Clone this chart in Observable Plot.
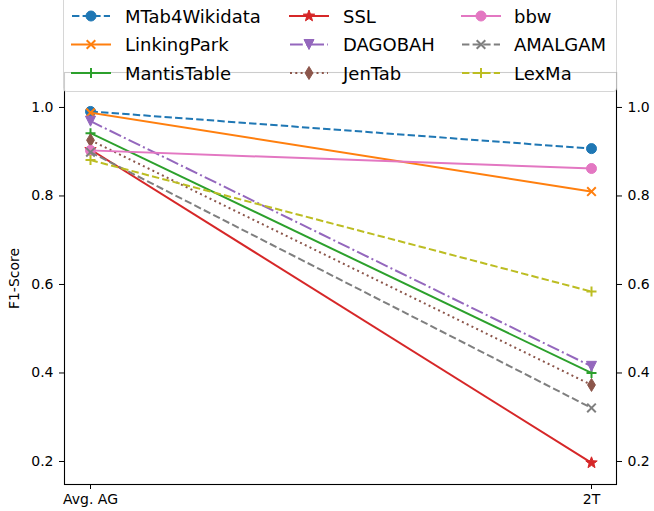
<!DOCTYPE html>
<html>
<head>
<meta charset="utf-8">
<script src="https://cdn.jsdelivr.net/npm/d3@7"></script>
<script src="https://cdn.jsdelivr.net/npm/@observablehq/plot@0.6"></script>
<style>
  html, body { margin: 0; padding: 0; background: white; }
  #wrap { position: relative; width: 654px; height: 511px; overflow: hidden; }
</style>
</head>
<body>
<div id="wrap"></div>
<script>
// ---- data ----
const categories = ["Avg. AG", "2T"];
const methods = ["MTab4Wikidata", "LinkingPark", "MantisTable", "SSL", "DAGOBAH", "JenTab", "bbw", "AMALGAM", "LexMa"];
const avgAG = [0.991, 0.988, 0.942, 0.905, 0.969, 0.926, 0.903, 0.899, 0.881];
const twoT  = [0.907, 0.810, 0.400, 0.197, 0.415, 0.373, 0.862, 0.321, 0.584];
const yTicks = [0.2, 0.4, 0.6, 0.8, 1.0];

// ---- styles ----
const colors = ["#1f77b4", "#ff7f0e", "#2ca02c", "#d62728", "#9467bd", "#8c564b", "#e377c2", "#7f7f7f", "#bcbd22"];
const dashes = ["7.4,3.2", null, null, null, "12.8,3.2,2,3.2", "2,3.3", null, "7.4,3.2", "7.4,3.2"];
const markers = ["circle", "x", "plus", "star", "tri", "thin", "circle", "x", "plus"];

const rad = s => Math.sqrt(s / Math.PI);
const symbols = {
  circle: {draw(c, s) { const r = rad(s); c.moveTo(r, 0); c.arc(0, 0, r, 0, 2 * Math.PI); c.closePath(); }},
  x: {draw(c, s) { const r = rad(s); c.moveTo(-r, -r); c.lineTo(r, r); c.moveTo(-r, r); c.lineTo(r, -r); }},
  plus: {draw(c, s) { const r = rad(s); c.moveTo(-r, 0); c.lineTo(r, 0); c.moveTo(0, -r); c.lineTo(0, r); }},
  star: {draw(c, s) {
    const R = rad(s), ri = R * 0.42;
    for (let k = 0; k < 10; k++) {
      const a = -Math.PI / 2 + k * Math.PI / 5, rr = k % 2 ? ri : R;
      const px = rr * Math.cos(a), py = rr * Math.sin(a);
      k ? c.lineTo(px, py) : c.moveTo(px, py);
    }
    c.closePath();
  }},
  tri: {draw(c, s) { const r = rad(s); c.moveTo(0, r); c.lineTo(-r, -r); c.lineTo(r, -r); c.closePath(); }},
  thin: {draw(c, s) { const r = rad(s); c.moveTo(0, -r); c.lineTo(0.6 * r, 0); c.lineTo(0, r); c.lineTo(-0.6 * r, 0); c.closePath(); }}
};
const markerR = {circle: 5, x: 4.3, plus: 5, star: 6, tri: 5, thin: 6.5};
const stroked = m => m === "x" || m === "plus";

const rows = [];
methods.forEach((m, i) => {
  rows.push({method: m, cat: categories[0], value: avgAG[i]});
  rows.push({method: m, cat: categories[1], value: twoT[i]});
});

const seriesMarks = [];
methods.forEach((m, i) => {
  const d = rows.filter(r => r.method === m);
  seriesMarks.push(Plot.line(d, {
    x: "cat", y: "value", stroke: colors[i], strokeWidth: 2,
    strokeDasharray: dashes[i] || undefined, strokeLinecap: dashes[i] ? "butt" : "square", strokeLinejoin: "round"
  }));
  const mk = markers[i];
  seriesMarks.push(Plot.dot(d, {
    x: "cat", y: "value", symbol: symbols[mk], r: markerR[mk],
    fill: stroked(mk) ? "none" : colors[i], stroke: colors[i], strokeWidth: stroked(mk) ? 2 : 1
  }));
});

const chart = Plot.plot({
  width: 654, height: 511,
  marginLeft: 64, marginRight: 38, marginTop: 72, marginBottom: 27,
  style: {fontFamily: "DejaVu Sans", fontSize: "14px", color: "black", background: "white"},
  x: {type: "point", domain: categories, padding: 0.05, axis: null},
  y: {domain: [0.148, 1.079], axis: null},
  marks: [
    Plot.axisY({anchor: "left", ticks: yTicks, tickFormat: ".1f", tickSize: 5, tickPadding: 6, label: null, fontSize: 14, stroke: "black", color: "black"}),
    Plot.axisY({anchor: "right", ticks: yTicks, tickFormat: ".1f", tickSize: 5, tickPadding: 6, label: null, fontSize: 14, stroke: "black", color: "black"}),
    Plot.axisX({anchor: "bottom", ticks: categories, tickSize: 5, tickPadding: 5, label: null, fontSize: 14, stroke: "black", color: "black"}),
    Plot.text(["F1-Score"], {text: d => d, frameAnchor: "left", dx: -50, rotate: -90, textAnchor: "middle", lineAnchor: "middle", fontSize: 14, fill: "black"}),
    ...seriesMarks,
    Plot.frame({stroke: "black", strokeWidth: 1.1})
  ]
});

const wrap = document.getElementById("wrap");
wrap.appendChild(chart);

// ---- legend overlay ----
const leg = d3.create("svg").attr("width", 654).attr("height", 93)
  .style("position", "absolute").style("left", "0px").style("top", "0px")
  .style("font-family", "DejaVu Sans");
leg.append("rect").attr("x", 63.5).attr("y", -8).attr("width", 553).attr("height", 99.5).attr("rx", 3)
  .attr("fill", "rgba(255,255,255,0.8)").attr("stroke", "rgba(204,204,204,0.8)").attr("stroke-width", 1);
const colX = [72, 290, 462];
const textX = [125, 343, 514];
const rowY = [16, 44.5, 73];
methods.forEach((m, i) => {
  const col = Math.floor(i / 3), row = i % 3;
  const hx = colX[col], y = rowY[row];
  leg.append("line").attr("x1", hx).attr("x2", hx + 38).attr("y1", y).attr("y2", y)
    .attr("stroke", colors[i]).attr("stroke-width", 2)
    .attr("stroke-dasharray", dashes[i]).attr("stroke-linecap", dashes[i] ? "butt" : "square");
  const mk = markers[i], r = markerR[mk];
  leg.append("path").attr("d", d3.symbol(symbols[mk], Math.PI * r * r)())
    .attr("transform", `translate(${hx + 19},${y})`)
    .attr("fill", stroked(mk) ? "none" : colors[i]).attr("stroke", colors[i])
    .attr("stroke-width", stroked(mk) ? 2 : 1);
  leg.append("text").attr("x", textX[col]).attr("y", y + 6.5).attr("font-size", 18).attr("fill", "black").text(m);
});
wrap.appendChild(leg.node());
</script>
</body>
</html>
